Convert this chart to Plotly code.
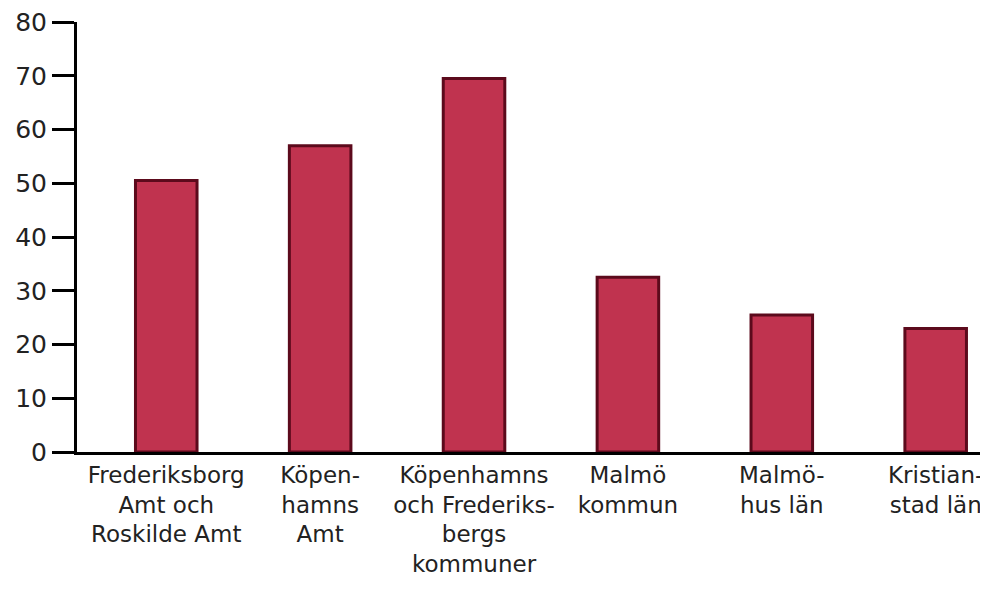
import plotly.graph_objects as go

categories = [
    "Frederiksborg<br>Amt och<br>Roskilde Amt",
    "Köpen-<br>hamns<br>Amt",
    "Köpenhamns<br>och Frederiks-<br>bergs<br>kommuner",
    "Malmö<br>kommun",
    "Malmö-<br>hus län",
    "Kristian-<br>stad län",
]
values = [50.5, 57, 69.5, 32.5, 25.5, 23]
y_ticks = [0, 10, 20, 30, 40, 50, 60, 70, 80]

fig = go.Figure(
    go.Bar(
        x=list(range(len(categories))),
        y=values,
        marker=dict(color="#C0334F", line=dict(color="#5C0A1C", width=3)),
        width=0.4,
    )
)

fig.update_layout(
    width=980,
    height=583,
    margin=dict(l=69, r=0, t=14, b=139),
    paper_bgcolor="white",
    plot_bgcolor="white",
    showlegend=False,
    font=dict(family="DejaVu Sans", size=24, color="#222222"),
)
fig.update_xaxes(
    range=[-0.58, 5.34],
    tickmode="array",
    tickvals=list(range(len(categories))),
    ticktext=categories,
    showline=True,
    linecolor="black",
    linewidth=3,
    ticks="",
    showgrid=False,
    zeroline=False,
    tickangle=0,
    tickfont=dict(size=23),
    ticklabeloverflow="allow",
)
fig.update_yaxes(
    range=[0, 80],
    tickvals=y_ticks,
    showline=True,
    linecolor="black",
    linewidth=3,
    ticks="outside",
    ticklen=22,
    tickwidth=3,
    tickcolor="black",
    showgrid=False,
    zeroline=False,
    ticklabelstandoff=0,
    ticklabeloverflow="allow",
    tickfont=dict(size=25),
)

fig.write_html("out.html")
